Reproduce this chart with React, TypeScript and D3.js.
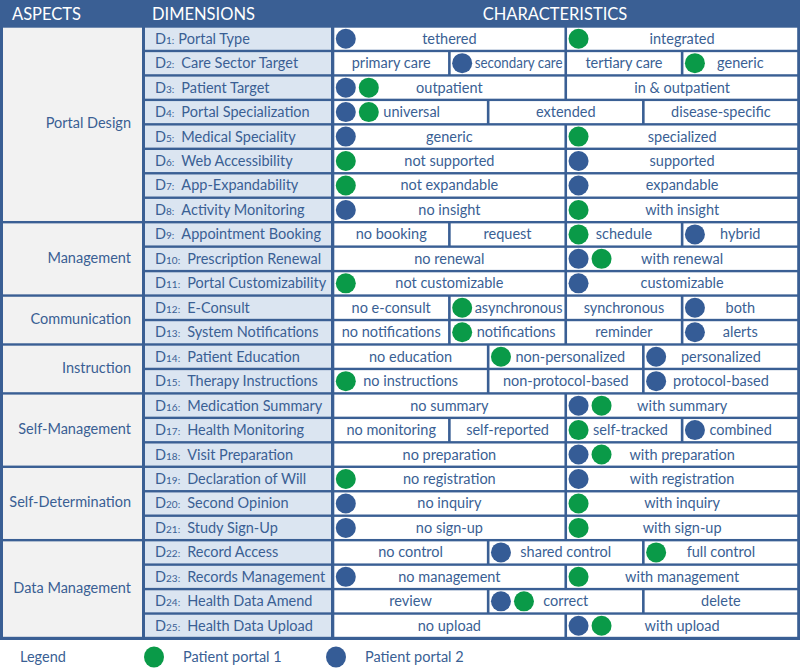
import { useEffect, useRef } from 'react';
import * as d3 from 'd3';

const aspects = ['Portal Design', 'Management', 'Communication', 'Instruction', 'Self-Management', 'Self-Determination', 'Data Management'];
const aspectSizes = [8, 3, 2, 2, 3, 3, 4];

const dimensions = [
  'Portal Type', 'Care Sector Target', 'Patient Target', 'Portal Specialization', 'Medical Speciality',
  'Web Accessibility', 'App-Expandability', 'Activity Monitoring', 'Appointment Booking', 'Prescription Renewal',
  'Portal Customizability', 'E-Consult', 'System Notifications', 'Patient Education', 'Therapy Instructions',
  'Medication Summary', 'Health Monitoring', 'Visit Preparation', 'Declaration of Will', 'Second Opinion',
  'Study Sign-Up', 'Record Access', 'Records Management', 'Health Data Amend', 'Health Data Upload',
];

const characteristics = [
  ['tethered', 'integrated'],
  ['primary care', 'secondary care', 'tertiary care', 'generic'],
  ['outpatient', 'in & outpatient'],
  ['universal', 'extended', 'disease-specific'],
  ['generic', 'specialized'],
  ['not supported', 'supported'],
  ['not expandable', 'expandable'],
  ['no insight', 'with insight'],
  ['no booking', 'request', 'schedule', 'hybrid'],
  ['no renewal', 'with renewal'],
  ['not customizable', 'customizable'],
  ['no e-consult', 'asynchronous', 'synchronous', 'both'],
  ['no notifications', 'notifications', 'reminder', 'alerts'],
  ['no education', 'non-personalized', 'personalized'],
  ['no instructions', 'non-protocol-based', 'protocol-based'],
  ['no summary', 'with summary'],
  ['no monitoring', 'self-reported', 'self-tracked', 'combined'],
  ['no preparation', 'with preparation'],
  ['no registration', 'with registration'],
  ['no inquiry', 'with inquiry'],
  ['no sign-up', 'with sign-up'],
  ['no control', 'shared control', 'full control'],
  ['no management', 'with management'],
  ['review', 'correct', 'delete'],
  ['no upload', 'with upload'],
];

// index of the characteristic each portal has, per dimension
const portal1 = [1, 3, 0, 0, 1, 0, 0, 1, 2, 1, 0, 1, 1, 1, 0, 1, 2, 1, 0, 1, 1, 2, 1, 1, 1];
const portal2 = [0, 1, 0, 0, 0, 1, 1, 0, 3, 1, 1, 3, 3, 2, 2, 1, 3, 1, 1, 0, 0, 1, 0, 1, 1];

const legendLabels = ['Patient portal 1', 'Patient portal 2'];

const BLUE = '#3a5f94';
const DOT_BLUE = '#355c96';
const GREEN = '#0a9a48';
const FONT = 'Lato, sans-serif';

export default function App() {
  const svgRef = useRef<SVGSVGElement>(null);

  useEffect(() => {
    if (!svgRef.current) return;
    const width = 800;
    const height = 668;
    const svg = d3.select(svgRef.current);
    svg.selectAll('*').remove();
    svg.attr('width', width).attr('height', height).style('font-family', FONT);

    const y = d3.scaleLinear().domain([0, dimensions.length]).range([26.5, 638]);
    const cx = d3.scaleLinear().domain([0, 1]).range([333, 798.5]);
    const rowH = y(1) - y(0);

    // header band and table frame
    svg.append('rect').attr('x', 0).attr('y', 0).attr('width', width).attr('height', 640).attr('fill', BLUE);

    const header = [
      { t: 'ASPECTS', x: 12, a: 'start' },
      { t: 'DIMENSIONS', x: 152, a: 'start' },
      { t: 'CHARACTERISTICS', x: 555, a: 'middle' },
    ];
    svg.selectAll('.hdr').data(header).enter().append('text')
      .attr('x', d => d.x).attr('y', 19.5)
      .attr('text-anchor', d => d.a)
      .attr('fill', 'white').style('font-size', '16.5px')
      .text(d => d.t);

    // aspects column
    let start = 0;
    const groups = aspects.map((name, i) => {
      const g = { name, start, end: start + aspectSizes[i] };
      start += aspectSizes[i];
      return g;
    });
    const ag = svg.selectAll('.aspect').data(groups).enter().append('g');
    ag.append('rect')
      .attr('x', 3).attr('width', 139)
      .attr('y', d => y(d.start) + 1.2)
      .attr('height', d => y(d.end) - y(d.start) - 2.4)
      .attr('fill', '#f2f2f2');
    ag.append('text')
      .attr('x', 131)
      .attr('y', d => (y(d.start) + y(d.end)) / 2 + 4)
      .attr('text-anchor', 'end')
      .attr('fill', BLUE).style('font-size', '14.5px')
      .text(d => d.name);

    // dimensions column
    const dg = svg.selectAll('.dim').data(dimensions).enter().append('g');
    dg.append('rect')
      .attr('x', 145).attr('width', 186)
      .attr('y', (d, i) => y(i) + 1.2)
      .attr('height', rowH - 2.4)
      .attr('fill', '#dbe5f1');
    const dt = dg.append('text')
      .attr('x', 155)
      .attr('y', (d, i) => y(i) + rowH / 2 + 5)
      .attr('fill', BLUE).style('font-size', '14.5px');
    dt.append('tspan').text('D');
    dt.append('tspan').style('font-size', '10px').text((d, i) => `${i + 1}`);
    dt.append('tspan').style('font-size', '10px').text(':');
    dt.append('tspan').attr('dx', (d, i) => (i === 0 ? 4 : 7)).text(d => d);

    // characteristics cells
    const cells = characteristics.flatMap((row, r) =>
      row.map((label, c) => {
        const dots: string[] = [];
        if (portal2[r] === c) dots.push(DOT_BLUE);
        if (portal1[r] === c) dots.push(GREEN);
        return { r, c, n: row.length, label, dots };
      })
    );
    const cg = svg.selectAll('.cell').data(cells).enter().append('g');
    cg.append('rect')
      .attr('x', d => cx(d.c / d.n) + 1.3)
      .attr('width', d => cx((d.c + 1) / d.n) - cx(d.c / d.n) - 2.6)
      .attr('y', d => y(d.r) + 1.2)
      .attr('height', rowH - 2.4)
      .attr('fill', 'white');

    cg.each(function (d) {
      const g = d3.select(this);
      const x0 = cx(d.c / d.n) + 1.3;
      const x1 = cx((d.c + 1) / d.n) - 1.3;
      const cy = y(d.r) + rowH / 2;
      d.dots.forEach((col, k) => {
        g.append('circle').attr('cx', x0 + 11.5 + k * 23).attr('cy', cy).attr('r', 10).attr('fill', col);
      });
      const txt = g.append('text')
        .attr('y', cy + 5)
        .attr('text-anchor', 'middle')
        .attr('fill', BLUE).style('font-size', '14.5px')
        .text(d.label);
      const w = (txt.node() as SVGTextElement).getComputedTextLength();
      let center = (x0 + x1) / 2;
      if (d.dots.length) {
        const dotsEnd = x0 + 22 + (d.dots.length - 1) * 23 + 2;
        const avail = x1 - dotsEnd - 2;
        if (w > avail) {
          txt.attr('textLength', avail).attr('lengthAdjust', 'spacingAndGlyphs');
          center = dotsEnd + avail / 2;
        } else {
          center = Math.max(center, dotsEnd + 2 + w / 2);
        }
      }
      txt.attr('x', center);
    });

    // legend
    svg.append('text').attr('x', 20).attr('y', 662)
      .attr('fill', BLUE).style('font-size', '14.5px').text('Legend');
    const lg = svg.selectAll('.leg').data(legendLabels).enter().append('g')
      .attr('transform', (d, i) => `translate(${154 + i * 182}, 657)`);
    lg.append('ellipse').attr('rx', 10).attr('ry', 10.5)
      .attr('fill', (d, i) => (i === 0 ? GREEN : DOT_BLUE));
    lg.append('text').attr('x', 29).attr('y', 5)
      .attr('fill', BLUE).style('font-size', '14.5px').text(d => d);
  }, []);

  return (
    <div style={{ position: 'absolute', left: 0, top: 0 }}>
      <svg ref={svgRef} style={{ display: 'block' }}></svg>
    </div>
  );
}
